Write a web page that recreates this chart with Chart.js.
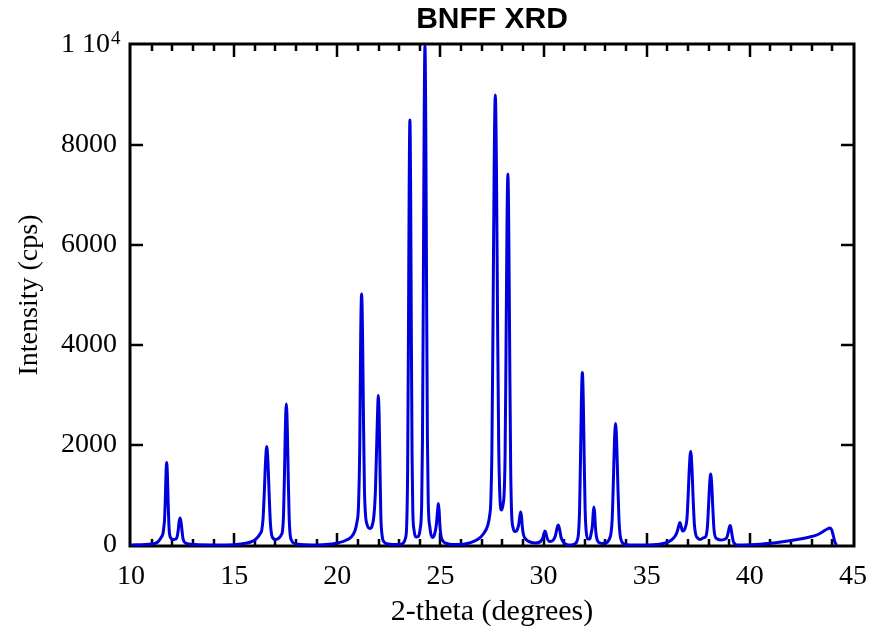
<!DOCTYPE html>
<html>
<head>
<meta charset="utf-8">
<title>BNFF XRD</title>
<script src="https://cdn.jsdelivr.net/npm/chart.js@4.4.1/dist/chart.umd.min.js"></script>
<style>
  html, body { margin: 0; padding: 0; background: #fff; }
  canvas { display: block; }
</style>
</head>
<body>
<canvas id="xrdChart" width="872" height="637"></canvas>
<script>
// ===== data (2-theta in degrees, intensity in cps) =====
const twoTheta = [
  // 11.7 / 12.4
  10.0, 11.0, 11.3, 11.46, 11.55, 11.59, 11.625, 11.66, 11.695, 11.73,
  11.765, 11.8, 11.835, 11.87, 11.93, 12.0, 12.08, 12.16, 12.2, 12.245,
  12.29, 12.335, 12.38, 12.425, 12.47, 12.515, 12.56, 12.64, 12.8, 13.1,
  14.0,
  // 16.6 / 17.5
  15.0, 15.5, 15.8, 16.0, 16.15, 16.25, 16.34, 16.4, 16.46, 16.52,
  16.58, 16.64, 16.7, 16.76, 16.82, 16.9, 17.0, 17.1, 17.2, 17.28,
  17.35, 17.395, 17.44, 17.485, 17.53, 17.575, 17.62, 17.665, 17.71, 17.8,
  17.9, 18.1, 18.5, 19.0,
  // 21.2 / 22.0
  19.6, 20.0, 20.4, 20.7, 20.85, 20.95, 21.03, 21.09, 21.135, 21.18,
  21.225, 21.27, 21.315, 21.36, 21.45, 21.58, 21.7, 21.78, 21.85, 21.91,
  21.95, 21.99, 22.03, 22.07, 22.11, 22.17, 22.27, 22.45, 22.7,
  // 23.5 / 24.25 / 24.9
  23.0, 23.2, 23.3, 23.36, 23.41, 23.45, 23.485, 23.52, 23.555, 23.59,
  23.625, 23.66, 23.72, 23.82, 23.92, 24.01, 24.09, 24.13, 24.17, 24.21,
  24.25, 24.29, 24.33, 24.37, 24.41, 24.49, 24.6, 24.72, 24.8, 24.865,
  24.9, 24.935, 24.97, 25.02, 25.12, 25.3, 25.6, 26.0,
  // 27.7 / 28.3 / 28.9 / 30.1 / 30.7
  26.4, 26.8, 27.1, 27.3, 27.39, 27.44, 27.495, 27.55, 27.605, 27.66,
  27.715, 27.77, 27.825, 27.88, 27.96, 28.03, 28.09, 28.135, 28.18, 28.225,
  28.27, 28.315, 28.36, 28.405, 28.45, 28.52, 28.62, 28.72, 28.8, 28.85,
  28.89, 28.93, 28.97, 29.03, 29.15, 29.35, 29.6, 29.85, 29.97, 30.03,
  30.07, 30.11, 30.17, 30.3, 30.45, 30.57, 30.65, 30.71, 30.77, 30.85,
  31.0, 31.2,
  // 31.9 / 32.4 / 33.5
  31.5, 31.62, 31.7, 31.745, 31.79, 31.835, 31.88, 31.925, 31.97, 32.015,
  32.06, 32.14, 32.24, 32.3, 32.37, 32.405, 32.44, 32.475, 32.51, 32.56,
  32.65, 32.85, 33.1, 33.22, 33.27, 33.325, 33.38, 33.435, 33.49, 33.545,
  33.6, 33.655, 33.71, 33.8, 33.95, 34.2,
  // 36.6 / 37.1 / 38.1 / 39.0
  35.0, 35.5, 35.9, 36.2, 36.38, 36.48, 36.55, 36.61, 36.67, 36.74,
  36.8, 36.87, 36.95, 37.01, 37.07, 37.13, 37.19, 37.25, 37.31, 37.37,
  37.47, 37.6, 37.73, 37.84, 37.89, 37.942, 37.995, 38.047, 38.1, 38.153,
  38.205, 38.258, 38.31, 38.42, 38.6, 38.75, 38.88, 38.94, 38.99, 39.04,
  39.09, 39.14, 39.2, 39.28, 39.4,
  // broad hump up to 44
  40.0, 40.5, 41.0, 41.5, 42.0, 42.5, 43.0, 43.3, 43.55, 43.75,
  43.88, 43.97, 44.05, 44.12, 44.2
];

const intensity = [
  0, 20, 60, 150, 230, 350, 500, 870, 1400, 1650,
  1400, 870, 420, 220, 140, 110, 110, 120, 130, 180,
  300, 470, 540, 460, 300, 140, 80, 40, 20, 8,
  0,

  5, 30, 60, 100, 160, 220, 300, 520, 1030, 1650,
  1970, 1650, 985, 420, 200, 130, 110, 120, 150, 200,
  300, 620, 1420, 2370, 2820, 2370, 1410, 590, 230, 80,
  35, 15, 5, 0,

  15, 40, 90, 170, 280, 450, 800, 2000, 4200, 5020,
  4200, 2500, 1150, 650, 400, 330, 400, 600, 1100, 2000,
  2600, 2990, 2550, 1550, 600, 200, 60, 20, 10,

  10, 40, 130, 350, 1500, 4250, 7140, 8500, 7140, 4250,
  1800, 700, 300, 160, 170, 300, 800, 2100, 4990, 8380,
  9980, 8380, 4990, 2100, 850, 350, 150, 220, 400, 700,
  830, 700, 420, 200, 80, 30, 10, 10,

  40, 110, 230, 400, 600, 850, 1890, 4500, 7560, 9000,
  7560, 4500, 2000, 1000, 700, 800, 1050, 1800, 3900, 6300,
  7420, 6230, 3710, 1560, 650, 350, 270, 300, 420, 580,
  660, 570, 360, 200, 110, 60, 40, 70, 150, 240,
  280, 240, 140, 70, 90, 180, 330, 400, 330, 150,
  40, 0,

  20, 80, 270, 700, 1720, 2900, 3450, 2900, 1720, 700,
  300, 120, 120, 220, 400, 640, 760, 640, 380, 170,
  60, 30, 60, 150, 240, 510, 1215, 2040, 2430, 2040,
  1215, 510, 200, 60, 15, 0,

  0, 10, 40, 100, 180, 270, 380, 450, 370, 280,
  290, 350, 520, 1000, 1570, 1870, 1570, 935, 420, 220,
  140, 110, 140, 160, 200, 360, 760, 1200, 1420, 1200,
  740, 330, 180, 120, 100, 110, 150, 230, 330, 390,
  330, 190, 70, 20, 0,

  5, 15, 35, 60, 90, 125, 170, 210, 270, 320,
  340, 300, 180, 60, 0
];

// axis labels
const xTickLabels = [10, 15, 20, 25, 30, 35, 40, 45];
const yTickLabels = [0, 2000, 4000, 6000, 8000, 10000];

// ===== look =====
const LINE_BLUE = "#0000dc";
const SERIF = "'Liberation Serif', 'Times New Roman', serif";
const SANS = "'Liberation Sans', Arial, sans-serif";

// frame + inward ticks (drawn under the curve like the original)
const frameTicks = {
  id: "frameTicks",
  beforeDatasetsDraw(chart) {
    const { ctx, chartArea: a, scales } = chart;
    const x = scales.x;
    const y = scales.y;
    ctx.save();
    ctx.strokeStyle = "#000";

    // x ticks every degree, longer every 5
    ctx.lineWidth = 2.5;
    ctx.beginPath();
    for (let d = 11; d < 45; d++) {
      const px = Math.round(x.getPixelForValue(d));
      const len = d % 5 === 0 ? 12 : 6;
      ctx.moveTo(px, a.bottom);
      ctx.lineTo(px, a.bottom - len);
      ctx.moveTo(px, a.top);
      ctx.lineTo(px, a.top + len);
    }
    // y ticks at the labelled values
    yTickLabels.forEach((v) => {
      if (v === 0 || v === 10000) return;
      const py = Math.round(y.getPixelForValue(v));
      ctx.moveTo(a.left, py);
      ctx.lineTo(a.left + 12, py);
      ctx.moveTo(a.right, py);
      ctx.lineTo(a.right - 12, py);
    });
    ctx.stroke();

    // box
    ctx.lineWidth = 3;
    ctx.strokeRect(a.left - 1, a.top - 1, a.right - a.left + 2, a.bottom - a.top + 2);
    ctx.restore();
  },
  afterDraw(chart) {
    // exponent of the "1 10^4" label
    const { ctx, scales } = chart;
    const y = scales.y;
    const py = y.getPixelForValue(10000);
    ctx.save();
    ctx.font = "19px " + SERIF;
    ctx.fillStyle = "#000";
    ctx.textAlign = "left";
    ctx.textBaseline = "alphabetic";
    ctx.fillText("4", y.right - 14 - 6, py - 1);
    ctx.restore();
  },
};

document.addEventListener("DOMContentLoaded", () => {
  const canvas = document.getElementById("xrdChart");
  const ctx = canvas.getContext("2d");

  const points = twoTheta.map((t, i) => ({ x: t, y: intensity[i] }));

  new Chart(ctx, {
    type: "line",
    data: {
      datasets: [
        {
          label: "BNFF",
          data: points,
          borderColor: LINE_BLUE,
          borderWidth: 3,
          pointRadius: 0,
          fill: false,
          cubicInterpolationMode: "monotone",
          clip: false,
        },
      ],
    },
    options: {
      responsive: false,
      devicePixelRatio: 1,
      animation: false,
      layout: { padding: 0 },
      plugins: {
        legend: { display: false },
        tooltip: { enabled: false },
        title: {
          display: true,
          text: "BNFF XRD",
          fullSize: false,
          color: "#000",
          font: { family: SANS, size: 30, weight: "bold", lineHeight: 1.2 },
          padding: { top: 2, bottom: 0 },
        },
      },
      scales: {
        x: {
          type: "linear",
          position: "bottom",
          min: 10,
          max: 45,
          afterBuildTicks: (s) => {
            s.ticks = xTickLabels.map((v) => ({ value: v }));
          },
          afterFit: (s) => {
            s.height = 92;
            // the end labels fit in the margins, no extra side padding
            s.paddingLeft = 0;
            s.paddingRight = 0;
          },
          grid: { display: false, drawTicks: false },
          border: { display: false },
          ticks: {
            color: "#000",
            font: { family: SERIF, size: 28 },
            padding: 15,
            maxRotation: 0,
            autoSkip: false,
          },
          title: {
            display: true,
            text: "2-theta (degrees)",
            color: "#000",
            font: { family: SERIF, size: 30 },
            padding: { top: 0, bottom: 7 },
          },
        },
        x2: {
          type: "linear",
          position: "top",
          min: 10,
          max: 45,
          afterFit: (s) => {
            s.height = 7;
          },
          grid: { display: false, drawTicks: false },
          border: { display: false },
          ticks: { display: false },
        },
        y: {
          type: "linear",
          position: "left",
          min: 0,
          max: 10000,
          afterBuildTicks: (s) => {
            s.ticks = yTickLabels.map((v) => ({ value: v }));
          },
          afterFit: (s) => {
            s.width = 131;
          },
          grid: { display: false, drawTicks: false },
          border: { display: false },
          ticks: {
            color: "#000",
            font: { family: SERIF, size: 28 },
            padding: 14,
            callback: (v) => (v === 10000 ? "1 10 " : String(v)),
          },
          title: {
            display: true,
            text: "Intensity (cps)",
            color: "#000",
            font: { family: SERIF, size: 28 },
            padding: { top: 13, bottom: 0 },
          },
        },
        y2: {
          type: "linear",
          position: "right",
          min: 0,
          max: 10000,
          afterFit: (s) => {
            s.width = 19;
          },
          grid: { display: false, drawTicks: false },
          border: { display: false },
          ticks: { display: false },
        },
      },
    },
    plugins: [frameTicks],
  });
});
</script>
</body>
</html>
